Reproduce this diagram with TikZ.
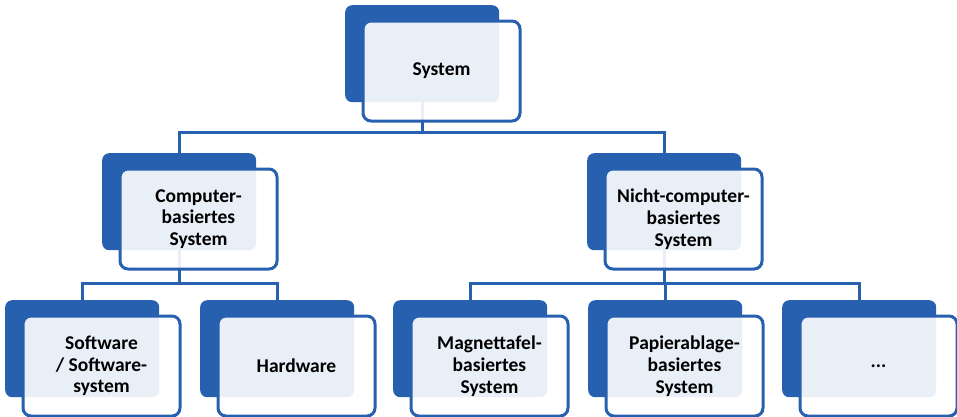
\documentclass[tikz,border=0pt]{standalone}
\usepackage{fontspec}
\setmainfont{Carlito}
\usetikzlibrary{backgrounds}
\definecolor{dblue}{RGB}{40,96,176}
\tikzset{
  darkbox/.style={fill=dblue, rounded corners=7pt, minimum width=154pt, minimum height=97pt, inner sep=0pt, anchor=north west},
  frontbox/.style={draw=dblue, line width=3pt, fill=white, fill opacity=0.9, text opacity=1, rounded corners=8pt,
     minimum width=157pt, minimum height=100pt, inner sep=0pt, anchor=north west, align=center,
     font=\fontsize{19.5pt}{21.7pt}\selectfont\bfseries},
  conn/.style={draw=dblue, line width=3pt, line join=miter}
}
\begin{document}
\begin{tikzpicture}[x=1pt,y=1pt]
\useasboundingbox (0,0) rectangle (957,-416);
% dark boxes
\node[darkbox] (sysD) at (345,-5) {};
\node[darkbox] (compD) at (102,-153) {};
\node[darkbox] (nichtD) at (587,-153) {};
\node[darkbox] (softD) at (5,-300) {};
\node[darkbox] (hardD) at (200,-300) {};
\node[darkbox] (magD) at (393,-300) {};
\node[darkbox] (papD) at (588,-300) {};
\node[darkbox] (dotsD) at (782,-300) {};
% front boxes
\node[frontbox] (sys) at ([xshift=16.5pt,yshift=-14.5pt]sysD.north west) {System};
\node[frontbox] (comp) at ([xshift=16.5pt,yshift=-14.5pt]compD.north west) {Computer-\\basiertes\\System};
\node[frontbox] (nicht) at ([xshift=16.5pt,yshift=-14.5pt]nichtD.north west) {Nicht-computer-\\basiertes\\System};
\node[frontbox] (soft) at ([xshift=16.5pt,yshift=-14.5pt]softD.north west) {Software\\/ Software-\\system};
\node[frontbox] (hard) at ([xshift=16.5pt,yshift=-14.5pt]hardD.north west) {Hardware};
\node[frontbox] (mag) at ([xshift=16.5pt,yshift=-14.5pt]magD.north west) {Magnettafel-\\basiertes\\System};
\node[frontbox] (pap) at ([xshift=16.5pt,yshift=-14.5pt]papD.north west) {Papierablage-\\basiertes\\System};
\node[frontbox] (dots) at ([xshift=16.5pt,yshift=-14.5pt]dotsD.north west) {...};
\coordinate (busA) at (0,-132);
\coordinate (busB) at (0,-283);
\begin{pgfonlayer}{background}
\draw[conn] (sysD.center) -- (sysD.center |- busA);
\draw[conn] (compD.north) -- (compD.north |- busA) -- (nichtD.north |- busA) -- (nichtD.north);
\draw[conn] (compD.center) -- (compD.center |- busB);
\draw[conn] (softD.north) -- (softD.north |- busB) -- (hardD.north |- busB) -- (hardD.north);
\draw[conn] (nichtD.center) -- (nichtD.center |- busB);
\draw[conn] (magD.north) -- (magD.north |- busB) -- (dotsD.north |- busB) -- (dotsD.north);
\draw[conn] (papD.north) -- (papD.north |- busB);
\end{pgfonlayer}
\end{tikzpicture}
\end{document}
